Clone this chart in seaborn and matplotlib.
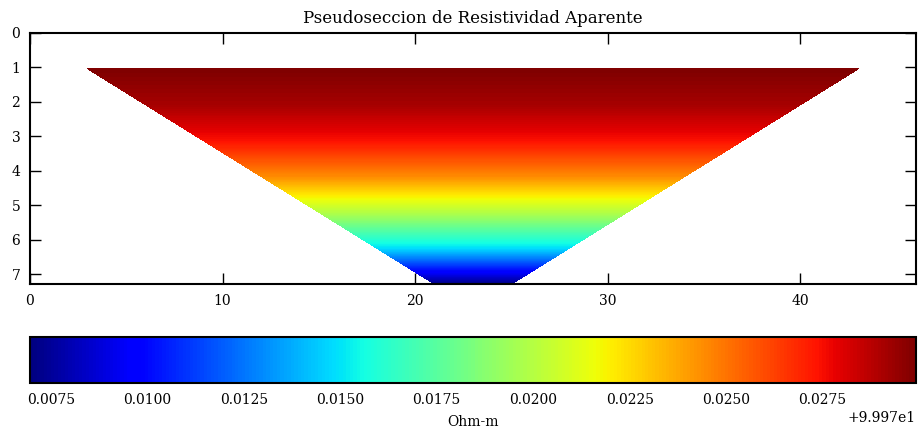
import numpy as np
import matplotlib
matplotlib.use("Agg")
import matplotlib.pyplot as plt
import matplotlib.tri as mtri
from matplotlib.ticker import ScalarFormatter, MultipleLocator
import seaborn as sns

# ---- data ----
level_depth = [1.04, 2.08, 3.12, 4.16, 5.20, 6.24, 7.28]
level_x_start = [3, 6, 9, 12, 15, 18, 21]
level_x_end = [43, 40, 37, 34, 31, 28, 25]
level_rho = [99.99992, 99.99910, 99.99740, 99.99440, 99.98990, 99.98480, 99.97696]
x_max = 46
title = "Pseudoseccion de Resistividad Aparente"
cbar_label = "Ohm-m"
cbar_offset = 99.97

sns.set_style("ticks")
plt.rcParams['font.family'] = ['DejaVu Serif']
plt.rcParams.update({
    'axes.linewidth': 1.5, 'axes.edgecolor': 'black', 'text.color': 'black',
    'axes.labelcolor': 'black', 'xtick.color': 'black', 'ytick.color': 'black',
})

# build measurement points
xs, ds, vs = [], [], []
for d, x0, x1, r in zip(level_depth, level_x_start, level_x_end, level_rho):
    for x in np.arange(x0, x1 + 1, 1):
        xs.append(x); ds.append(d); vs.append(r)
xs = np.array(xs, float); ds = np.array(ds, float); vs = np.array(vs, float)

fig = plt.figure(figsize=(9.2, 4.34), dpi=100)
ax = fig.add_axes([30/920, 1-284/434, 886/920, 251/434])
cax = fig.add_axes([30/920, 1-383/434, 886/920, 46/434])

cmap = matplotlib.colormaps["jet"]
tri = mtri.Triangulation(xs, ds)
levels = np.linspace(min(level_rho), max(level_rho), 256)
cs = ax.tricontourf(tri, vs, levels=levels, cmap=cmap)

ax.set_xlim(0, x_max)
ax.set_ylim(max(level_depth), 0)
ax.set_xticks(np.arange(0, 41, 10))
ax.set_yticks(np.arange(0, 8, 1))
ax.tick_params(direction='in', length=8, width=1.0, top=True, right=True,
               labelsize=10, pad=7, colors='black')
for s in ax.spines.values():
    s.set_linewidth(1.5)
    s.set_color('black')
ax.set_title(title, fontsize=12, pad=7, color='black')

cbar = fig.colorbar(cs, cax=cax, orientation='horizontal')
cbar.locator = MultipleLocator(0.0025)
fmt = ScalarFormatter(useOffset=cbar_offset)
cbar.formatter = fmt
cbar.update_ticks()
cbar.outline.set_linewidth(1.5)
cbar.outline.set_edgecolor('black')
cax.tick_params(direction='in', length=8, width=1.0, labelsize=10, pad=7, colors='black')
cax.xaxis.get_offset_text().set_fontsize(10)
cax.xaxis.get_offset_text().set_color('black')
cbar.set_label(cbar_label, fontsize=10, labelpad=6, color='black')

fig.savefig("out.png", dpi=100)
